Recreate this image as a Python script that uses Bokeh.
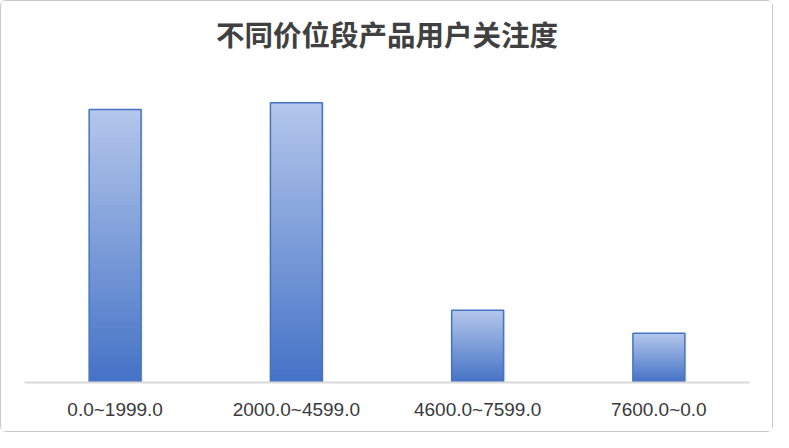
import numpy as np
from bokeh.plotting import figure
from bokeh.models import Label, ColumnDataSource
from bokeh.transform import dodge
from bokeh.embed import file_html
from bokeh.resources import INLINE

# ---- data ----
categories = ["0.0~1999.0", "2000.0~4599.0", "4600.0~7599.0", "7600.0~0.0"]
values = [283, 290, 75, 51]
title_text = "不同价位段产品用户关注度"

# ---- style ----
W, H = 773, 432
BAR_W = 0.2865
TOP_COLOR = np.array([0xB4, 0xC7, 0xEB])
BOT_COLOR = np.array([0x44, 0x72, 0xC6])
N_STEPS = 40

p = figure(x_range=categories, y_range=(0, 395), width=W, height=H,
           output_backend="svg", toolbar_location=None,
           min_border_left=23, min_border_right=25,
           min_border_top=0, min_border_bottom=51,
           styles={"border": "1.5px solid #c8c8c8", "border-radius": "6px"})
p.background_fill_color = "white"
p.border_fill_color = "white"
p.outline_line_color = None
p.xgrid.visible = False
p.ygrid.visible = False
p.yaxis.visible = False

# soft shadow to the right of each bar
p.vbar(x=dodge("x", 0.012, range=p.x_range), top="top", width=BAR_W, bottom=0,
       source=ColumnDataSource(dict(x=categories, top=values)),
       fill_color="#8a93a8", fill_alpha=0.10, line_color=None)

# gradient fill: horizontal slices of each bar
xs, bots, tops, cols = [], [], [], []
for c, v in zip(categories, values):
    for i in range(N_STEPS):
        f0 = i / N_STEPS
        f1 = (i + 1) / N_STEPS
        t = (f0 + f1) / 2  # 0 bottom -> 1 top
        rgb = BOT_COLOR + (TOP_COLOR - BOT_COLOR) * t
        xs.append(c)
        bots.append(v * f0)
        tops.append(min(v, v * f1 + 1.0))
        cols.append("#%02x%02x%02x" % tuple(int(round(k)) for k in rgb))
p.vbar(x="x", bottom="b", top="t", width=BAR_W, fill_color="c", line_color=None,
       source=ColumnDataSource(dict(x=xs, b=bots, t=tops, c=cols)))

# bar outline
p.vbar(x=categories, top=values, width=BAR_W, bottom=0,
       fill_color=None, line_color="#4472C4", line_width=1.5)

# x axis
p.xaxis.axis_line_color = "#d9d9d9"
p.xaxis.axis_line_width = 2
p.xaxis.major_tick_line_color = None
p.xaxis.minor_tick_line_color = None
p.xaxis.major_label_text_font = "Liberation Sans"
p.xaxis.major_label_text_font_size = "19px"
p.xaxis.major_label_text_color = "#3a3a3a"
p.xaxis.major_label_standoff = 10

# title
p.add_layout(Label(x=2, y=362, text=title_text, text_align="center",
                   text_baseline="middle", text_font="Noto Sans CJK SC",
                   text_font_style="bold", text_font_size="28.5px",
                   text_color="#404040"))

open("out.html", "w").write(file_html(p, INLINE))
